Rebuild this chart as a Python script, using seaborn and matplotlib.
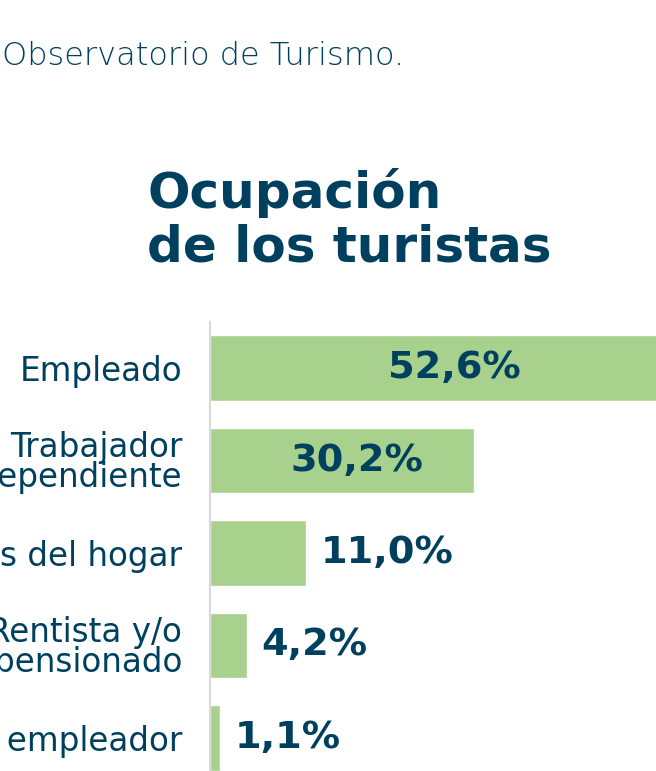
import matplotlib
matplotlib.use("Agg")
import matplotlib.pyplot as plt
import seaborn as sns
import pandas as pd

categories = ["Empleado", "Trabajador\nindependiente", "Oficios del hogar",
              "Rentista y/o\npensionado", "Patrón o empleador"]
values = [52.6, 30.2, 11.0, 4.2, 1.1]
value_labels = ["52,6%", "30,2%", "11,0%", "4,2%", "1,1%"]

title_lines = ["Ocupación", "de los turistas"]
source = "Observatorio de Turismo."

DARK = "#00405f"
GREEN = "#a9d18e"

sns.set_theme(style="white")
plt.rcParams["font.family"] = ["DejaVu Sans"]

W, H = 656, 771
fig = plt.figure(figsize=(W / 100, H / 100), dpi=100)
ax = fig.add_axes([210 / W, 0, 1 - 210 / W, (H - 322) / H])

df = pd.DataFrame({"cat": categories, "val": values})
sns.barplot(data=df, x="val", y="cat", color=GREEN, saturation=1, width=0.71, ax=ax)

ax.set_xlim(0, (W - 210) / 8.74)
ax.set_ylim(4.36, -0.5)
ax.set_xlabel("")
ax.set_ylabel("")
ax.set_xticks([])
for s in ["top", "right", "bottom"]:
    ax.spines[s].set_visible(False)
ax.spines["left"].set_color("#d9d9d9")
ax.spines["left"].set_linewidth(1.5)

ax.tick_params(axis="y", length=0, pad=20, labelsize=23.5, labelcolor=DARK)
for t in ax.get_yticklabels():
    t.set_linespacing(0.9)

for i, (v, lab) in enumerate(zip(values, value_labels)):
    if v > 20:
        ax.text(v / 2 + 1.7, i, lab, ha="center", va="center", fontsize=27.5,
                fontweight="bold", color=DARK)
    else:
        ax.text(v + 1.7, i, lab, ha="left", va="center", fontsize=27.5,
                fontweight="bold", color=DARK)

for line, base in zip(title_lines, [208, 262]):
    fig.text(147 / W, 1 - base / H, line, ha="left", va="baseline", fontsize=36,
             fontweight="bold", color=DARK)
fig.text(2 / W, 1 - 65 / H, source, ha="left", va="baseline", fontsize=23,
         fontweight="light", color=DARK)

fig.savefig("out.png", dpi=100)
